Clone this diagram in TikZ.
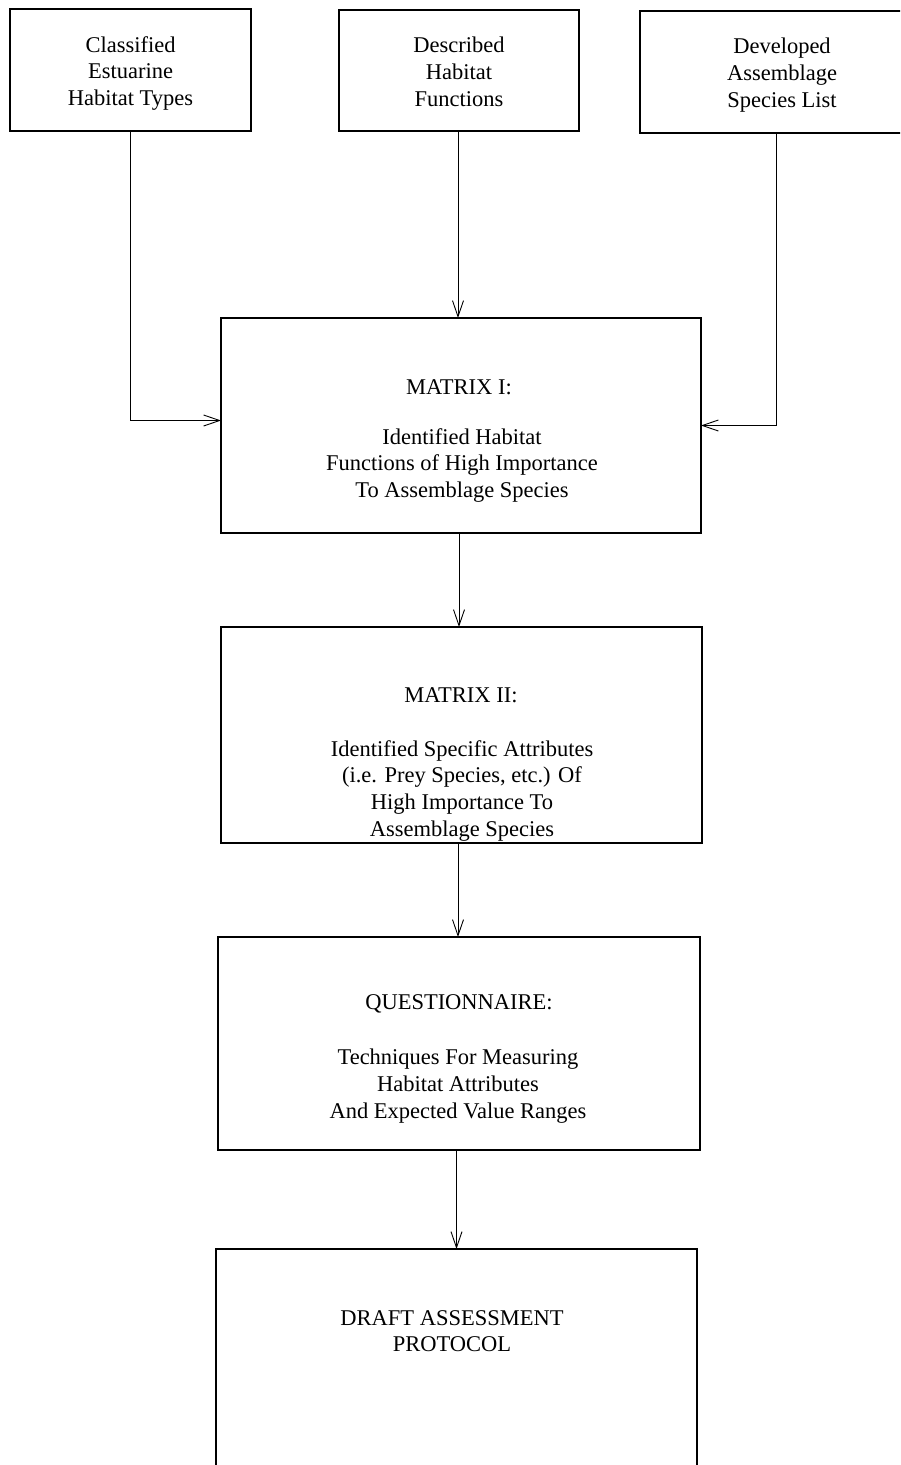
\documentclass[tikz,border=0pt]{standalone}
\usepackage{fontspec}
\setmainfont{Liberation Serif}
\usetikzlibrary{arrows.meta}
\begin{document}
\begin{tikzpicture}[x=1pt,y=-1pt,
  box/.style={draw, line width=1.5pt, inner sep=0pt, outer sep=0pt},
  txt/.style={align=center, font=\fontsize{22.5}{26.8}\selectfont, inner sep=0pt, anchor=north},
  hdr/.style={font=\fontsize{22.5}{26.8}\selectfont, inner sep=0pt, anchor=base},
  conn/.style={line width=0.9pt, -{Straight Barb[length=16pt,width=11pt,line width=0.9pt]}}]
\useasboundingbox (0,0) rectangle (900,1465);
\fill[white] (0,0) rectangle (900,1465);
\clip (0,0) rectangle (900,1465);
% boxes
\node[box, minimum width=241pt, minimum height=122pt] (A) at (130.5,70) {};
\node[box, minimum width=240pt, minimum height=121pt] (B) at (459,70.5) {};
\node[box, minimum width=272pt, minimum height=122pt] (C) at (776,72) {};
\node[box, minimum width=480pt, minimum height=215pt] (M1) at (461,425.5) {};
\node[box, minimum width=481pt, minimum height=216pt] (M2) at (461.5,735) {};
\node[box, minimum width=482pt, minimum height=213pt] (Q) at (459,1043.5) {};
\node[box, minimum width=481pt, minimum height=271pt] (D) at (456.5,1384.5) {};
% texts
\node[txt] (tA) at (130.5,36) {Classified\\Estuarine\\Habitat Types};
\node[txt] (tB) at (459,37) {Described\\Habitat\\Functions};
\node[txt] (tC) at (782,38) {Developed\\Assemblage\\Species List};
\node[hdr] (h1) at (459,394) {MATRIX I:};
\node[txt] (t1) at (462,428) {Identified Habitat\\Functions of High Importance\\To Assemblage Species};
\node[hdr] (h2) at (461,702) {MATRIX II:};
\node[txt] (t2) at (462,740) {Identified Specific Attributes\\(i.e. Prey Species, etc.) Of\\High Importance To\\Assemblage Species};
\node[hdr] (h3) at (459,1009) {QUESTIONNAIRE:};
\node[txt] (t3) at (458,1049) {Techniques For Measuring\\Habitat Attributes\\And Expected Value Ranges};
\node[txt] (t4) at (452,1310) {DRAFT ASSESSMENT\\PROTOCOL};
% connectors
\draw[conn] (A.south) |- ([yshift=5pt]M1.west);
\draw[conn] (C.south) |- (M1.east);
\draw[conn] ([xshift=-1pt]B.south) -- ([xshift=-1pt]B.south |- M1.north);
\draw[conn] ([xshift=-2pt]M1.south) -- ([xshift=-2pt]M1.south |- M2.north);
\draw[conn] ([xshift=-1pt]M2.south -| Q.north) -- ([xshift=-1pt]Q.north);
\draw[conn] (Q.south -| D.north) -- (D.north);
\end{tikzpicture}
\end{document}
